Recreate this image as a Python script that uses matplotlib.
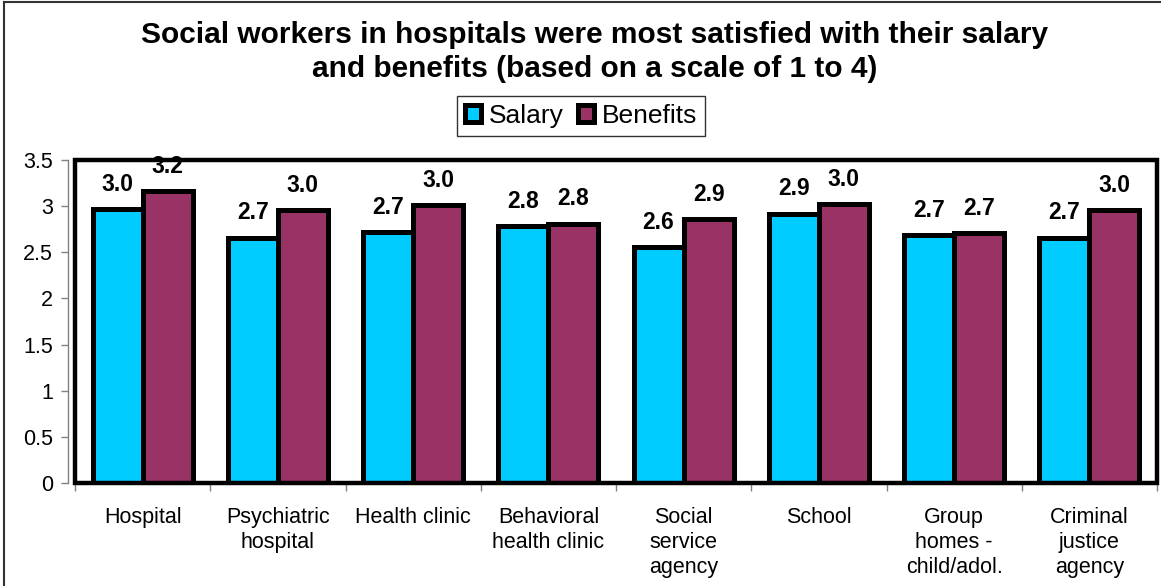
import matplotlib
matplotlib.use("Agg")
import matplotlib.pyplot as plt
import numpy as np
from matplotlib.patches import Rectangle
from matplotlib.lines import Line2D

plt.rcParams['font.family'] = ['Liberation Sans', 'DejaVu Sans']

categories = ["Hospital", "Psychiatric\nhospital", "Health clinic", "Behavioral\nhealth clinic",
              "Social\nservice\nagency", "School", "Group\nhomes -\nchild/adol.",
              "Criminal\njustice\nagency"]
salary = [2.97, 2.66, 2.72, 2.78, 2.56, 2.92, 2.69, 2.66]
benefits = [3.16, 2.96, 3.01, 2.81, 2.86, 3.02, 2.71, 2.96]
series_names = ["Salary", "Benefits"]
colors = ["#00CCFF", "#993366"]
title = ("Social workers in hospitals were most satisfied with their salary\n"
         "and benefits (based on a scale of 1 to 4)")

W, H = 1161, 586
fig = plt.figure(figsize=(W / 100, H / 100), dpi=100)
ax = fig.add_axes([75 / W, 1 - 483 / H, (1157 - 75) / W, (483 - 160) / H])

x = np.arange(len(categories))
bw = 0.37
bars = []
for k, (vals, col, name) in enumerate(zip([salary, benefits], colors, series_names)):
    b = ax.bar(x + (k - 0.5) * bw, vals, width=bw, color=col, edgecolor="black",
               linewidth=3.6, label=name, zorder=2)
    bars.append(b)
    for xi, v in zip(x + (k - 0.5) * bw, vals):
        ax.annotate(f"{v:.1f}", (xi, v), xytext=(0, 9.5), textcoords="offset points",
                    ha="center", va="bottom", fontsize=16.5, fontweight="bold", zorder=4)

ax.set_xlim(-0.5, len(categories) - 0.5)
ax.set_ylim(0, 3.5)
ax.set_yticks(np.arange(0, 3.51, 0.5))
ax.set_yticklabels(["0", "0.5", "1", "1.5", "2", "2.5", "3", "3.5"])
ax.set_xticks(x)
ax.set_xticklabels(categories, fontsize=15.5, linespacing=1.25, va="top")
ax.set_xticks(np.arange(-0.5, len(categories), 1.0), minor=True)
ax.tick_params(axis="x", which="major", length=0, pad=17)
ax.tick_params(axis="x", which="minor", length=6, width=1, color="#808080", direction="out")
ax.tick_params(axis="y", labelsize=15.5, length=5, width=1, color="#808080", direction="out", pad=6)

for s in ["top", "right", "bottom"]:
    ax.spines[s].set_visible(False)
ax.spines["left"].set_position(("outward", 5))
ax.spines["left"].set_color("#808080")
ax.spines["left"].set_linewidth(1)

# thick plot-area frame drawn above bars and labels
ax.add_patch(Rectangle((0, 0), 1, 1, transform=ax.transAxes, fill=False,
                       edgecolor="black", linewidth=3.2, zorder=5, clip_on=False))

fig.text(595 / W, 1 - 52 / H, title, ha="center", va="center", fontsize=21.5,
         fontweight="bold", linespacing=1.3)

leg = fig.legend(handles=bars, labels=series_names, loc="center",
                 bbox_to_anchor=(581 / W, 1 - 116 / H), ncol=2, fontsize=19,
                 frameon=True, fancybox=False, shadow=False, handlelength=0.6,
                 handleheight=0.6, handletextpad=0.3, columnspacing=0.55,
                 borderpad=0.3, borderaxespad=0)
leg.get_frame().set_edgecolor("black")
leg.get_frame().set_linewidth(1)

# outer chart border (top and left edges)
fig.add_artist(Line2D([4 / W, 1], [1 - 1.5 / H, 1 - 1.5 / H], transform=fig.transFigure,
                      color="#333333", linewidth=1.5))
fig.add_artist(Line2D([4 / W, 4 / W], [0, 1 - 1.5 / H], transform=fig.transFigure,
                      color="#333333", linewidth=1.5))

fig.savefig("out.png", dpi=100)
